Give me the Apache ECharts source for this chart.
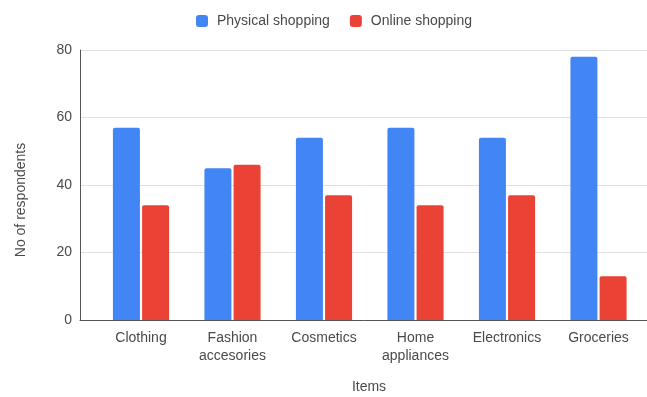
<!DOCTYPE html>
<html>
<head>
<meta charset="utf-8">
<script src="https://cdn.jsdelivr.net/npm/echarts@6/dist/echarts.min.js"></script>
<style>
html,body{margin:0;padding:0;background:#fff;}
#chart{width:647px;height:397px;}
</style>
</head>
<body>
<div id="chart"></div>
<script>
const categories = ['Clothing', 'Fashion\naccesories', 'Cosmetics', 'Home\nappliances', 'Electronics', 'Groceries'];
const physical = [57, 45, 54, 57, 54, 78];
const online = [34, 46, 37, 34, 37, 13];
const yTicks = [0, 20, 40, 60, 80];
const seriesNames = ['Physical shopping', 'Online shopping'];

const FONT = '"Liberation Sans", Arial, sans-serif';
const TXT = '#4a4a4a';
const chart = echarts.init(document.getElementById('chart'), null, {renderer: 'canvas'});
chart.setOption({
  animation: false,
  backgroundColor: '#ffffff',
  legend: {
    top: 14,
    left: 196,
    padding: 0,
    itemWidth: 12,
    itemHeight: 12,
    itemGap: 20,
    icon: 'roundRect',
    textStyle: {fontFamily: FONT, fontSize: 14, color: TXT, padding: [0, 0, 0, 4]},
    data: seriesNames
  },
  grid: [
    {left: 80, right: 0, top: 50, height: 270},
    {left: 95.25, right: 2.75, top: 50, height: 270}
  ],
  xAxis: [
    {gridIndex: 0, type: 'value', min: 0, max: 1, show: true,
     axisLine: {show: true, onZero: false, lineStyle: {color: '#555', width: 1}},
     axisTick: {show: false}, axisLabel: {show: false}, splitLine: {show: false}},
    {gridIndex: 1, type: 'category', data: categories,
     axisLine: {show: false}, axisTick: {show: false},
     axisLabel: {fontFamily: FONT, fontSize: 14, color: TXT, margin: 9, lineHeight: 18, interval: 0}}
  ],
  yAxis: [
    {gridIndex: 0, type: 'value', min: yTicks[0], max: yTicks[yTicks.length - 1], interval: 20,
     axisLine: {show: true, lineStyle: {color: '#555', width: 1}},
     axisTick: {show: false},
     axisLabel: {fontFamily: FONT, fontSize: 14, color: TXT, margin: 8},
     splitLine: {lineStyle: {color: '#e0e0e0', width: 1}}},
    {gridIndex: 1, type: 'value', min: 0, max: 80, show: false}
  ],
  graphic: [
    {type: 'text', x: 21, y: 200, rotation: Math.PI / 2,
     style: {text: 'No of respondents', font: '14px ' + FONT, fill: TXT, align: 'center', verticalAlign: 'middle'}},
    {type: 'text', x: 369, y: 387,
     style: {text: 'Items', font: '14px ' + FONT, fill: TXT, align: 'center', verticalAlign: 'middle'}}
  ],
  series: [
    {name: seriesNames[0], type: 'bar', xAxisIndex: 1, yAxisIndex: 1, data: physical,
     barWidth: 27, barGap: '8%', itemStyle: {color: '#4285f4', borderRadius: [2, 2, 0, 0]}},
    {name: seriesNames[1], type: 'bar', xAxisIndex: 1, yAxisIndex: 1, data: online,
     barWidth: 27, barGap: '8%', itemStyle: {color: '#ea4335', borderRadius: [2, 2, 0, 0]}}
  ]
});
</script>
</body>
</html>
